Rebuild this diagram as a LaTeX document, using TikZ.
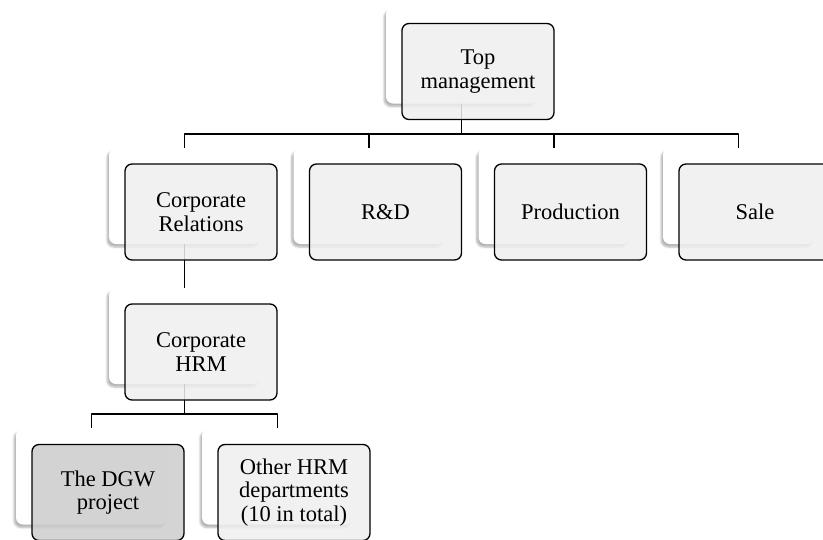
\documentclass[tikz,border=0pt]{standalone}
\usepackage{fontspec}
\setmainfont{Liberation Serif}
\usetikzlibrary{shadows.blur}
\definecolor{boxgray}{HTML}{EFEFEF}
\definecolor{dgwgray}{HTML}{CCCCCC}
\tikzset{
	backbox/.style={fill=white,rounded corners=7pt,minimum width=151pt,minimum height=96pt,
		blur shadow={shadow xshift=-2pt,shadow yshift=-3pt,shadow blur steps=6,shadow opacity=30}},
	frontbox/.style={draw=black,line width=1.3pt,fill=boxgray,fill opacity=0.85,text opacity=1,
		rounded corners=7pt,minimum width=152pt,minimum height=96pt,align=center,
		font=\fontsize{22.5}{23.5}\selectfont},
	link/.style={line width=1.3pt}
}
\begin{document}
\begin{tikzpicture}[x=1pt,y=-1pt,line join=round]
	\useasboundingbox (0,0) rectangle (823,539);
	\clip (0,0) rectangle (823,539);
	%Khung nền
	\foreach \t/\p in {top/{(461.5,55.5)},cr/{(184.5,196)},rd/{(369,196)},prod/{(554,196)},sale/{(738.5,196)},hrm/{(184.5,336)},dgw/{(91.5,476.5)},oth/{(277.5,476.5)}}{
		\node[backbox] (\t) at \p {};}
	%Đường nối
	\path (461.5,134) coordinate (J1) (184.5,414) coordinate (J2);
	\draw[link] (top.south)--(J1) (cr.north)|-(J1)-|(sale.north)
	(rd.north)--(rd.north|-J1) (prod.north)--(prod.north|-J1)
	(cr.south)--(hrm.north)
	(hrm.south)--(J2) (dgw.north)|-(J2)-|(oth.north);
	%Khung chữ
	\foreach \t/\s in {top/{Top\\management},cr/{Corporate\\Relations},rd/{R\&D},prod/{Production},sale/{Sale},hrm/{Corporate\\HRM},oth/{Other HRM\\departments\\(10 in total)}}{
		\node[frontbox] (\t F) at ([shift={(16.5,16)}]\t) {\s};}
	\node[frontbox,fill=dgwgray] (dgwF) at ([shift={(16.5,16)}]dgw) {The DGW\\project};
\end{tikzpicture}
\end{document}
